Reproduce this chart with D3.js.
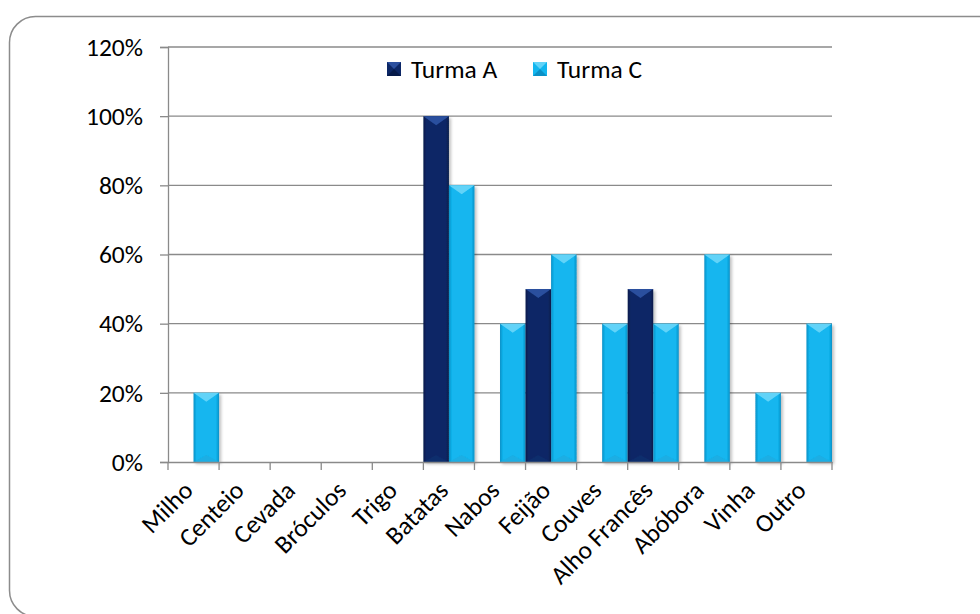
<!DOCTYPE html>
<html><head><meta charset="utf-8">
<script src="https://cdn.jsdelivr.net/npm/d3@7"></script>
<style>body{margin:0;background:#fff}svg{display:block}text{font-family:Carlito,Calibri,Lato,sans-serif;fill:#000}</style>
</head><body><svg id="c" width="980" height="614"></svg>
<script>
const categories = ["Milho","Centeio","Cevada","Bróculos","Trigo","Batatas","Nabos","Feijão","Couves","Alho Francês","Abóbora","Vinha","Outro"];
const seriesNames = ["Turma A","Turma C"];
const turmaA = [0,0,0,0,0,1.0,0,0.5,0,0.5,0,0,0];
const turmaC = [0.2,0,0,0,0,0.8,0.4,0.6,0.4,0.4,0.6,0.2,0.4];
const yTicks = [0,0.2,0.4,0.6,0.8,1.0,1.2];

const FS = 25.5;
const svg = d3.select("#c");
const defs = svg.append("defs");
const pal = {
  "Turma A": {base:"#0c2766", edge:"#061a4a", top:"#2b4f9e", bot:"#143272"},
  "Turma C": {base:"#12b6ef", edge:"#0a90c6", top:"#62d3f8", bot:"#22a9dc"}
};
seriesNames.forEach((s,i)=>{
  const g = defs.append("linearGradient").attr("id","g"+i).attr("x1","0").attr("x2","1").attr("y1","0").attr("y2","0");
  g.append("stop").attr("offset","0").attr("stop-color",pal[s].edge);
  g.append("stop").attr("offset","0.12").attr("stop-color",pal[s].base);
  g.append("stop").attr("offset","0.88").attr("stop-color",pal[s].base);
  g.append("stop").attr("offset","1").attr("stop-color",pal[s].edge);
});
const f = defs.append("filter").attr("id","sh").attr("x","-20%").attr("y","-5%").attr("width","150%").attr("height","115%");
f.append("feDropShadow").attr("dx",2).attr("dy",2).attr("stdDeviation",1.5).attr("flood-color","#000").attr("flood-opacity",0.25);

svg.append("rect").attr("x",9.5).attr("y",16.5).attr("width",1010).attr("height",600).attr("rx",26)
  .attr("fill","#fff").attr("stroke","#8c8c8c").attr("stroke-width",1.5);

const x = d3.scaleBand().domain(categories).range([168,832]).padding(0);
const xi = d3.scaleBand().domain(seriesNames).range([0,x.bandwidth()]).padding(0);
const y = d3.scaleLinear().domain([0,1.2]).range([462,47]);

// gridlines
svg.append("g").selectAll("line").data(yTicks.slice(1)).join("line")
  .attr("x1",168).attr("x2",832).attr("y1",d=>y(d)).attr("y2",d=>y(d))
  .attr("stroke","#8a8a8a").attr("stroke-width",1.3);

// y axis
const ya = svg.append("g").attr("transform","translate(168,0)")
  .call(d3.axisLeft(y).tickValues(yTicks).tickSize(8).tickPadding(17).tickFormat(d3.format(".0%")));
ya.select(".domain").attr("stroke","#8a8a8a").attr("stroke-width",1.3);
ya.selectAll(".tick line").attr("stroke","#8a8a8a").attr("stroke-width",1.3);
ya.selectAll("text").attr("font-size",FS).attr("font-family","Carlito,Calibri,Lato,sans-serif").attr("fill","#000");

// bars
const data = categories.map((c,i)=>({c, vals:[{s:"Turma A",v:turmaA[i]},{s:"Turma C",v:turmaC[i]}]}));
const grp = svg.append("g").selectAll("g").data(data).join("g").attr("transform",d=>`translate(${x(d.c)},0)`);
const bars = grp.selectAll("g").data(d=>d.vals.filter(v=>v.v>0)).join("g").attr("filter","url(#sh)");
bars.append("rect")
  .attr("x",d=>xi(d.s)).attr("width",xi.bandwidth()).attr("y",d=>y(d.v)).attr("height",d=>y(0)-y(d.v))
  .attr("fill",d=>"url(#g"+seriesNames.indexOf(d.s)+")");
bars.append("path")
  .attr("d",d=>{const x0=xi(d.s),w=xi.bandwidth(),t=y(d.v);return `M${x0},${t}L${x0+w},${t}L${x0+w/2},${t+9}Z`;})
  .attr("fill",d=>pal[d.s].top);
bars.append("path")
  .attr("d",d=>{const x0=xi(d.s),w=xi.bandwidth(),b=y(0);return `M${x0},${b}L${x0+w},${b}L${x0+w/2},${b-7}Z`;})
  .attr("fill",d=>pal[d.s].bot).attr("opacity",0.6);

// x axis
const xa = svg.append("g").attr("transform","translate(0,462)")
  .call(d3.axisBottom(x).tickSize(0).tickFormat(""));
xa.select(".domain").attr("stroke","#8a8a8a").attr("stroke-width",1.3);
xa.selectAll(".tick").remove();
const bounds = categories.map(c=>x(c)).concat([832]);
svg.append("g").selectAll("line").data(bounds).join("line")
  .attr("x1",d=>d).attr("x2",d=>d).attr("y1",462).attr("y2",470)
  .attr("stroke","#8a8a8a").attr("stroke-width",1.3);
svg.append("g").selectAll("text").data(categories).join("text")
  .attr("transform",c=>`translate(${x(c)+x.bandwidth()/2+1},${492}) rotate(-45)`)
  .attr("text-anchor","end").attr("font-size",FS).text(c=>c);

// legend
const lg = svg.append("g");
const lx = [387,533];
seriesNames.forEach((s,i)=>{
  const g = lg.append("g").attr("transform",`translate(${lx[i]},62)`);
  g.append("rect").attr("width",14).attr("height",14).attr("fill",pal[s].base);
  g.append("path").attr("d","M0,0L14,0L7,7Z").attr("fill",pal[s].top);
  g.append("path").attr("d","M0,14L14,14L7,7Z").attr("fill",pal[s].edge);
  g.append("text").attr("x",24).attr("y",16).attr("font-size",FS).text(s);
});
</script></body></html>
